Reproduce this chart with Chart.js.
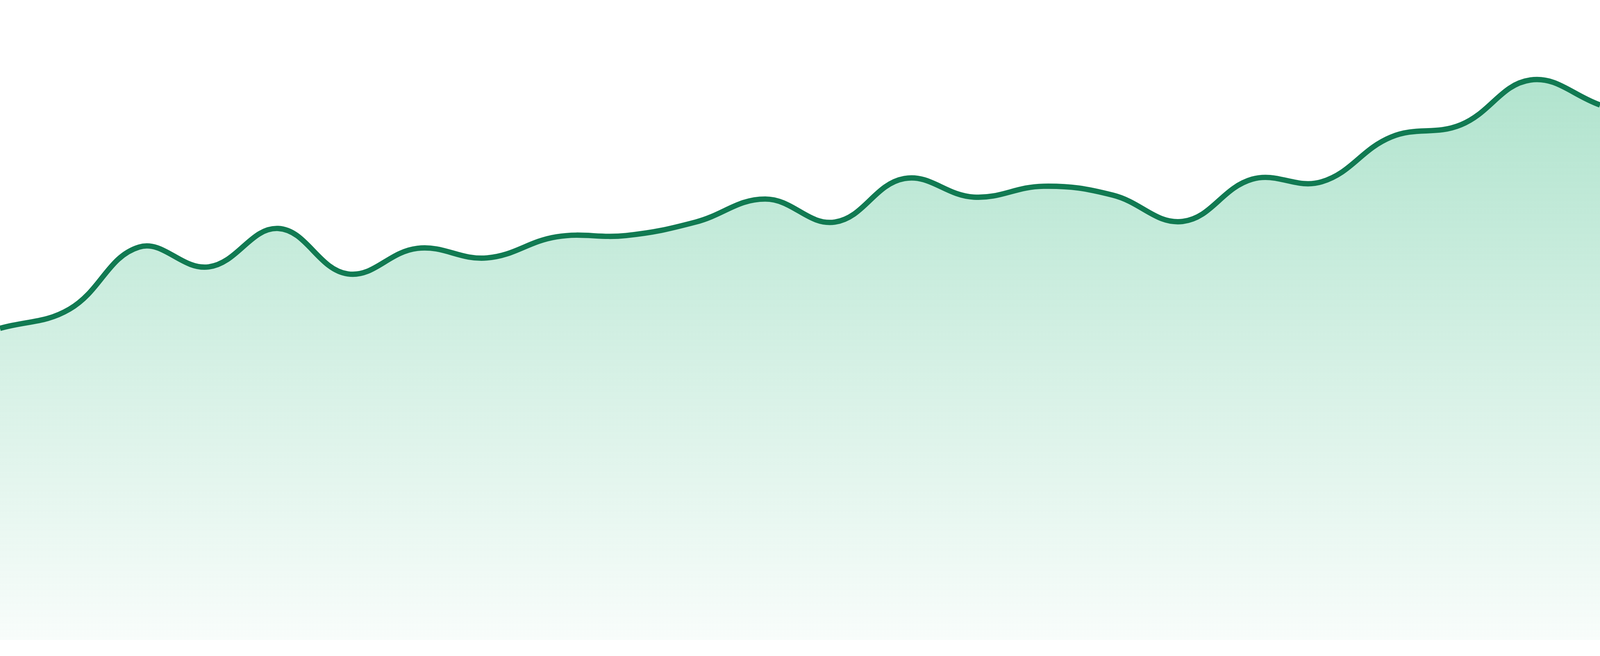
<!DOCTYPE html>
<html>
<head>
<meta charset="utf-8">
<script src="https://cdn.jsdelivr.net/npm/chart.js@4.4.1/dist/chart.umd.min.js"></script>
<style>
  html, body { margin: 0; padding: 0; background: #ffffff; overflow: hidden; }
  #wrap { width: 100vw; height: 100vh; position: relative; }
</style>
</head>
<body>
<div id="wrap"><canvas id="areaTrend"></canvas></div>
<script>
// hourly values (no axes shown, 0-100 scale)
const hours = ["00:00", "01:00", "02:00", "03:00", "04:00", "05:00", "06:00", "07:00",
    "08:00", "09:00", "10:00", "11:00", "12:00", "13:00", "14:00", "15:00",
    "16:00", "17:00", "18:00", "19:00", "20:00", "21:00", "22:00", "23:00"];
const values = [48.7, 51.7, 61.4, 58.3, 64.3, 57.2, 61.2, 59.7,
    63.0, 63.2, 65.3, 68.9, 65.3, 72.1, 69.2, 70.9,
    69.5, 65.4, 72.0, 71.6, 78.6, 80.5, 87.5, 83.6];
const yMin = 0;
const yMax = 100;

// sizes are relative to the window so the picture scales with it
var unit = window.innerWidth / 4800;

new Chart("areaTrend", {
    type: "line",
    data: {
        labels: hours,
        datasets: [{
            label: "Trend",
            data: values,
            borderColor: "#117a52",
            borderWidth: 16 * unit,
            tension: 0.4,
            pointRadius: 0,
            fill: "start",
            backgroundColor: function (context) {
                const area = context.chart.chartArea;
                if (!area) return "rgba(40,180,120,0.2)";
                const g = context.chart.ctx.createLinearGradient(0, area.top, 0, area.bottom);
                g.addColorStop(0, "rgba(40,180,120,0.41)");
                g.addColorStop(1, "rgba(40,180,120,0.03)");
                return g;
            }
        }]
    },
    options: {
        responsive: true,
        maintainAspectRatio: false,
        animation: false,
        layout: { padding: { top: 0, right: 0, bottom: 48 * unit, left: 0 } },
        plugins: { legend: { display: false }, tooltip: { enabled: false } },
        scales: {
            x: { display: false },
            y: { display: false, min: yMin, max: yMax }
        }
    }
});
</script>
</body>
</html>
